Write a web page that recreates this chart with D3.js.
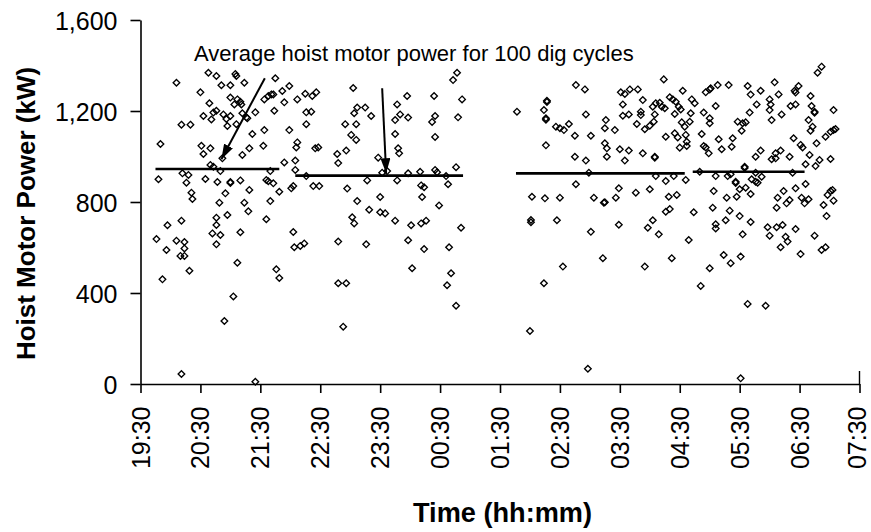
<!DOCTYPE html>
<html>
<head>
<meta charset="utf-8">
<script src="https://cdn.jsdelivr.net/npm/d3@7"></script>
<style>
  html, body { margin: 0; padding: 0; background: #fff; }
  svg { display: block; font-family: "Liberation Sans", Arial, sans-serif; }
</style>
</head>
<body>
<svg id="chart" width="871" height="532"></svg>
<script>
// ---------------- DATA ----------------
// Each reading: [minutes after 19:30, hoist motor power in kW]
const readings1930to2300 = [
  [36,1324],[41,1140],[50,1140],[20,1055],[18,900],[42,926],[48,919],[46,885],[51,841],[52,813],
  [41,718],[27,698],[16,637],[26,589],[36,630],[44,624],[44,596],[40,563],[44,563],[49,498],
  [22,460],[41,44],
  [68,1368],[76,1354],[81,1313],[90,1313],[95,1363],[96,1354],[104,1324],[135,1344],[149,1310],[142,1288],
  [60,1282],[69,1234],[90,1259],[97,1251],[100,1241],[94,1229],[101,1229],[124,1251],[128,1266],[131,1273],
  [133,1273],[144,1238],[157,1251],[165,1276],[172,1266],[176,1282],[63,1178],[71,1163],[73,1193],[76,1201],
  [83,1185],[86,1165],[90,1178],[87,1134],[96,1142],[102,1190],[106,1172],[107,1168],[115,1194],[134,1201],
  [166,1194],[171,1197],[166,1142],[112,1099],[124,1116],[149,1116],[61,1047],[70,1036],[63,1011],[109,1036],
  [123,1047],[102,1007],[157,1062],[156,1040],[175,1036],[178,1040],[197,1011],[82,992],[70,963],[73,955],
  [80,936],[144,974],[155,982],[155,941],[130,936],[198,971],[65,901],[77,888],[90,888],[90,884],[100,895],
  [126,897],[128,891],[133,882],[151,860],[153,870],[173,870],[179,870],[85,838],[109,853],[139,845],
  [79,797],[104,797],[108,759],[130,804],[87,743],[76,731],[76,699],[72,662],[80,655],[76,614],
  [100,667],[126,724],[153,668],[154,601],[160,607],[164,618],[198,626],[97,533],[136,504],[139,466],
  [198,443],[93,385],[84,277],[115,10],[166,914]
];
const readings2300to0100 = [
  [213,1301],[205,1142],[216,1142],[214,1190],[217,1215],[225,1215],[231,1178],[211,1095],[216,1073],[206,1026],
  [238,995],[242,929],[247,936],[227,895],[207,859],[257,895],[217,804],[229,766],[240,822],[240,755],
  [245,750],[255,718],[212,733],[214,706],[226,614],[206,443],[203,252],[255,1099],[255,1160],[260,1185],
  [257,1229],[267,1266],[268,1171],[258,1036],[259,1014],[268,926],[280,933],[281,873],[284,865],[282,822],
  [271,698],[281,706],[286,718],[268,632],[284,593],[272,509],[294,1266],[292,1152],[295,1178],[295,1086],
  [295,941],[297,931],[306,914],[308,878],[299,785],[321,687],[309,601],[311,487],[307,434],[316,344],
  [313,1336],[317,1368],[322,1251],[318,1172],[316,953]
];
const readings0130to0440 = [
  [377,1197],[407,1245],[407,1240],[404,1204],[406,1168],[406,1162],[436,1314],[445,1295],[446,1185],[416,1131],
  [420,1124],[424,1116],[429,1143],[435,1091],[451,1091],[406,1049],[435,999],[446,982],[466,1160],[465,1124],
  [475,1116],[465,1058],[467,1036],[467,999],[480,1032],[489,1026],[485,982],[481,1282],[485,1275],[490,1295],
  [498,1295],[483,1229],[483,1179],[489,1185],[497,1143],[501,1182],[501,1197],[503,1248],[505,1120],[510,1135],
  [514,1153],[515,1185],[513,1219],[516,1234],[524,1339],[520,1236],[522,1219],[525,1212],[526,1087],[530,1260],
  [533,1251],[536,1241],[539,1219],[541,1207],[543,1289],[535,1187],[535,1102],[538,1084],[540,1039],[542,1150],
  [545,1131],[546,1095],[547,1065],[547,1046],[503,1014],[515,999],[515,995],[436,878],[449,929],[392,823],
  [405,816],[420,819],[391,721],[391,711],[417,720],[451,669],[454,819],[464,797],[465,799],[476,819],
  [479,860],[479,700],[496,841],[510,856],[516,914],[526,892],[534,914],[529,823],[537,831],[526,757],
  [530,769],[508,687],[513,720],[519,658],[546,897],[549,633],[463,553],[423,516],[505,516],[532,553],
  [404,443],[390,233],[448,67]
];
const readings0440to0630 = [
  [552,1251],[555,1234],[551,1190],[550,1153],[554,755],[561,431],[564,1193],[562,1099],[564,1046],[566,1040],
  [569,1014],[566,1282],[570,1295],[571,1300],[578,1314],[589,1314],[576,1222],[570,1168],[570,1146],[579,1076],
  [582,1032],[593,1080],[592,1043],[598,1153],[603,1146],[606,1150],[602,1113],[610,1193],[608,1310],[611,1272],
  [617,1229],[621,1289],[635,1326],[630,1251],[631,1229],[630,1204],[632,1160],[639,1273],[642,1185],[655,1289],
  [656,1281],[659,1310],[651,1222],[656,1229],[671,1266],[672,1222],[675,1197],[675,1192],[669,1160],[671,1113],
  [673,1131],[678,1368],[682,1395],[694,1204],[691,1109],[694,1116],[696,1121],[686,1087],[677,1058],[654,1080],
  [661,1051],[663,1040],[616,999],[621,1026],[632,988],[636,1014],[636,992],[641,1026],[650,999],[666,966],
  [670,1007],[676,958],[680,985],[691,989],[560,933],[605,955],[605,950],[616,929],[653,929],[576,914],
  [588,914],[591,922],[596,889],[596,884],[600,856],[606,863],[611,835],[612,900],[616,889],[618,885],
  [622,911],[574,848],[587,819],[597,823],[573,775],[590,762],[586,720],[600,738],[611,712],[576,702],
  [576,684],[603,658],[638,819],[644,848],[637,775],[647,794],[650,809],[656,860],[662,819],[665,794],
  [669,812],[666,879],[628,689],[630,652],[637,689],[643,699],[646,647],[648,626],[641,601],[656,681],
  [661,571],[675,652],[682,589],[686,601],[684,787],[687,738],[688,831],[691,848],[693,853],[694,806],
  [584,567],[591,531],[601,560],[570,509],[608,352],[626,344],[601,25]
];

// Average power for each block of 100 dig cycles
const avgStartMin = [15, 155, 376, 553];
const avgEndMin   = [139, 323, 545, 665];
const avgKW       = [945, 916, 926, 933];

// Axis ticks
const xTickLabels = ["19:30","20:30","21:30","22:30","23:30","00:30","01:30","02:30","03:30","04:30","05:30","06:30","07:30"];
const yTickValues = [0, 400, 800, 1200, 1600];
const yTickLabels = ["0", "400", "800", "1,200", "1,600"];

// Annotation
const annotationText = "Average hoist motor power for 100 dig cycles";
const annotationAnchor = [53.5, 1420];              // [min, kW]
const arrows = [                                     // [fromMin, fromKW, toMin, toKW]
  [124.5, 1344, 81, 988],
  [242, 1300, 246, 926]
];

// ---------------- CHART ----------------
const t0 = new Date(2000, 0, 1, 19, 30);
const toDate = m => new Date(t0.getTime() + m * 60000);

const svg = d3.select("#chart");
const x = d3.scaleTime().domain([t0, toDate(720)]).range([140.5, 859.5]);
const y = d3.scaleLinear().domain([0, 1600]).range([384, 20]);

const xTickDates = xTickLabels.map((_, i) => toDate(i * 60));

// X axis
const xAxis = svg.append("g")
  .attr("transform", `translate(0,${y(0)})`)
  .call(d3.axisBottom(x).tickValues(xTickDates).tickSize(9).tickSizeOuter(0)
        .tickFormat((d, i) => xTickLabels[i]));
xAxis.select(".domain").attr("stroke", "#000").attr("stroke-width", 1.6);
xAxis.selectAll(".tick line").attr("stroke", "#000").attr("stroke-width", 1.6);
xAxis.selectAll(".tick text")
  .attr("transform", "rotate(-90)")
  .attr("x", -22.5).attr("y", 0)
  .attr("dy", (d, i) => i === xTickLabels.length - 1 ? "0.25em" : "0.34em")
  .style("text-anchor", "end")
  .attr("fill", "#000")
  .style("font-size", "25px");

// small upward mark at the right end of the x axis
svg.append("line")
  .attr("x1", x(toDate(720))).attr("x2", x(toDate(720)))
  .attr("y1", y(0) - 13).attr("y2", y(0))
  .attr("stroke", "#000").attr("stroke-width", 1.4);

// Y axis
const yAxis = svg.append("g")
  .attr("transform", `translate(${x(t0)},0)`)
  .call(d3.axisLeft(y).tickValues(yTickValues).tickSize(10).tickSizeOuter(0).tickPadding(13)
        .tickFormat((d, i) => yTickLabels[i]));
yAxis.select(".domain").attr("stroke", "#000").attr("stroke-width", 1.6);
yAxis.selectAll(".tick line").attr("stroke", "#000").attr("stroke-width", 1.6);
yAxis.selectAll(".tick text").attr("fill", "#000").style("font-size", "25px").attr("dy", "0.36em");

// Axis titles
svg.append("text")
  .attr("transform", "translate(35,213.5) rotate(-90)")
  .attr("text-anchor", "middle")
  .style("font-size", "26px").style("font-weight", "bold")
  .text("Hoist Motor Power (kW)");

svg.append("text")
  .attr("x", 502.5).attr("y", 522)
  .attr("text-anchor", "middle")
  .attr("textLength", 179).attr("lengthAdjust", "spacingAndGlyphs")
  .style("font-size", "28px").style("font-weight", "bold")
  .text("Time (hh:mm)");

// Points
const allReadings = [].concat(readings1930to2300, readings2300to0100, readings0130to0440, readings0440to0630);
const diamond = "M0,-3.3L3.3,0L0,3.3L-3.3,0Z";
svg.append("g").selectAll("path")
  .data(allReadings)
  .join("path")
  .attr("transform", d => `translate(${x(toDate(d[0]))},${y(d[1])})`)
  .attr("d", diamond)
  .attr("fill", "none")
  .attr("stroke", "#000")
  .attr("stroke-width", 1.35);

// Average lines
svg.append("g").selectAll("line")
  .data(avgKW)
  .join("line")
  .attr("x1", (d, i) => x(toDate(avgStartMin[i])))
  .attr("x2", (d, i) => x(toDate(avgEndMin[i])))
  .attr("y1", d => y(d)).attr("y2", d => y(d))
  .attr("stroke", "#000").attr("stroke-width", 2.6);

// Arrows
svg.append("defs").append("marker")
  .attr("id", "head")
  .attr("markerUnits", "userSpaceOnUse")
  .attr("viewBox", "0 -5 15 10")
  .attr("refX", 15).attr("refY", 0)
  .attr("markerWidth", 15).attr("markerHeight", 10)
  .attr("orient", "auto")
  .append("path").attr("d", "M0,-5L15,0L0,5Z").attr("fill", "#000");

svg.append("g").selectAll("line")
  .data(arrows)
  .join("line")
  .attr("x1", d => x(toDate(d[0]))).attr("y1", d => y(d[1]))
  .attr("x2", d => x(toDate(d[2]))).attr("y2", d => y(d[3]))
  .attr("stroke", "#000").attr("stroke-width", 2)
  .attr("marker-end", "url(#head)");

// Annotation text
svg.append("text")
  .attr("x", x(toDate(annotationAnchor[0])))
  .attr("y", y(annotationAnchor[1]))
  .style("font-size", "22px")
  .text(annotationText);
</script>
</body>
</html>
